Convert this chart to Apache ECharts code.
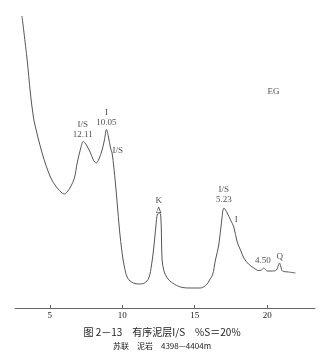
<!DOCTYPE html>
<html><head><meta charset="utf-8">
<script src="https://cdn.jsdelivr.net/npm/echarts@6/dist/echarts.min.js"></script>
<style>html,body{margin:0;padding:0;background:#fff}#c{width:324px;height:355px}</style>
</head><body><div id="c"></div>
<script>
// 2θ (°) values of the trace
const twoTheta = [3.08,3.44,3.66,3.87,4.01,4.47,5.04,5.46,5.85,6.01,6.20,6.43,6.70,6.89,7.12,7.32,7.53,7.81,8.01,8.20,8.39,8.61,8.77,8.91,9.05,9.19,9.30,9.53,9.65,9.81,9.99,10.15,10.34,10.64,11.14,11.53,11.83,12.02,12.18,12.33,12.43,12.57,12.66,12.71,12.75,12.88,13.10,13.47,14.02,14.71,15.40,15.86,16.02,16.23,16.43,16.66,16.85,17.02,17.24,17.47,17.70,17.93,18.16,18.39,18.71,19.08,19.40,19.61,19.77,19.88,20.00,20.37,20.64,20.78,20.85,20.95,21.06,21.47,21.95];
// relative intensity
const intensity = [292,248,215,191,181,155,131,121,115,114,116,121,130,145,159,166.5,163,155,148,145,149,158,168,178.5,171,160,155,125,105,78,55,41,31,26,24,25,30,43,61,83,94,95,92,68,48,37,30,25,21,20,20,24,28,33,48,63,86,100,95,88,81,66,58,50,44,40,37.5,38,40,38.5,37,37,38,43,45,41,37,36,35];
// tick labels
const tickValues = [5,10,15,20];
// peak annotations
const annoX = [20.44,7.28,8.91,9.69,12.52,17.01,17.86,19.70,20.87];
const annoY = [216,178,190.3,157.3,102.7,113.7,88.7,47,51.3];
const annoText = ['EG','I/S\n12.11','I\n10.05','I/S','K\nΔ','I/S\n5.23','I','4.50','Q'];
const caption1 = '图 2－13　有序泥层I/S　%S＝20%';
const caption2 = '苏联　泥岩　4398—4404m';

const serif = '"Liberation Serif","DejaVu Serif",serif';
const chart = echarts.init(document.getElementById('c'));
chart.setOption({
  animation:false,
  grid:{left:15,right:9,top:0,bottom:47},
  xAxis:{type:'value',min:2.6,max:23.3,
    axisLine:{show:true,lineStyle:{color:'#666',width:1}},
    axisTick:{show:true,inside:true,length:3,customValues:tickValues,lineStyle:{color:'#666'}},
    axisLabel:{customValues:tickValues,color:'#222',fontSize:9,fontFamily:serif,margin:3},
    splitLine:{show:false}},
  yAxis:{type:'value',min:0,max:308,show:false,splitLine:{show:false}},
  series:[
    {type:'line',data:twoTheta.map((x,i)=>[x,intensity[i]]),showSymbol:false,smooth:0.35,
     lineStyle:{color:'#555',width:1}},
    {type:'scatter',symbolSize:0,silent:true,
     data:annoX.map((x,i)=>({value:[x,annoY[i]],label:{formatter:annoText[i]}})),
     label:{show:true,position:'inside',color:'#222',fontSize:9,fontFamily:serif,lineHeight:10}}
  ],
  graphic:[
    {type:'text',left:'center',top:327,style:{text:caption1,fontSize:10,fill:'#222',fontFamily:'"Noto Sans CJK SC",sans-serif'}},
    {type:'text',left:'center',top:342,style:{text:caption2,fontSize:8,fill:'#222',fontFamily:'"Noto Sans CJK SC",sans-serif'}}
  ]
});
</script></body></html>
